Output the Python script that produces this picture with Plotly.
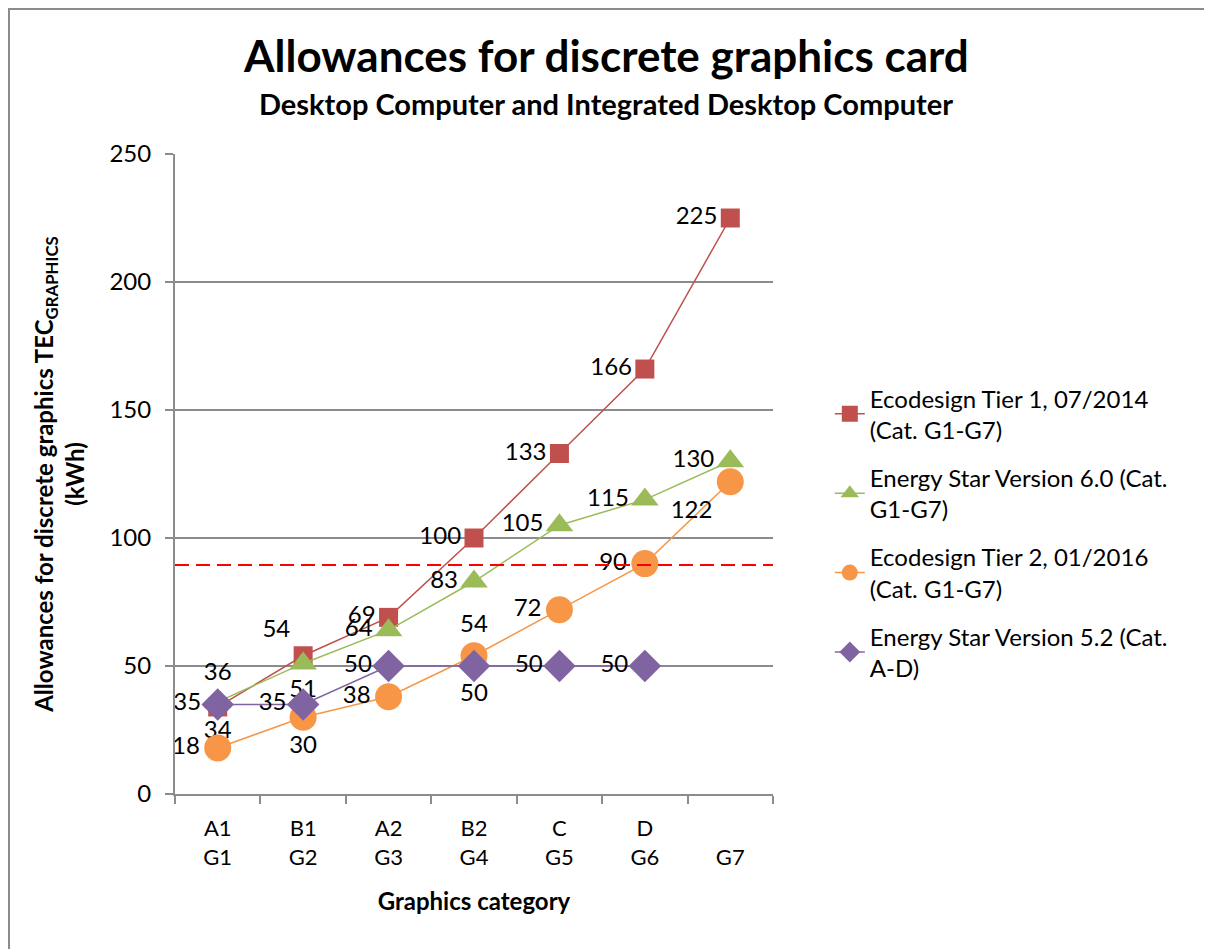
import plotly.graph_objects as go

categories = ["A1<br>G1", "B1<br>G2", "A2<br>G3", "B2<br>G4", "C<br>G5", "D<br>G6", " <br>G7"]

tier1_values = [34, 54, 69, 100, 133, 166, 225]
es6_values = [36, 51, 64, 83, 105, 115, 130]
tier2_values = [18, 30, 38, 54, 72, 90, 122]
es52_values = [35, 35, 50, 50, 50, 50]

threshold_value = 89.5

series_names = [
    "Ecodesign Tier 1, 07/2014<br>(Cat. G1-G7)",
    "Energy Star Version 6.0 (Cat.<br>G1-G7)",
    "Ecodesign Tier 2, 01/2016<br>(Cat. G1-G7)",
    "Energy Star Version 5.2 (Cat.<br>A-D)",
]

title_text = "Allowances for discrete graphics card"
subtitle_text = "Desktop Computer and Integrated Desktop Computer"

FONT = "Lato"

# label placements
tier1_pos = ["bottom center", "top left", "middle left", "middle left", "middle left", "middle left", "middle left"]
es6_pos = ["top center", "bottom center", "middle left", "middle left", "middle left", "middle left", "middle left"]
tier2_pos = ["middle left", "bottom center", "middle left", "top center", "middle left", "middle left", "bottom left"]
es52_pos = ["middle left", "middle left", "middle left", "bottom center", "middle left", "middle left"]

specs = [
    (tier1_values, "#C0504D", "square", 19, tier1_pos),
    (es6_values, "#9BBB59", "triangle-up", 24, es6_pos),
    (tier2_values, "#F79646", "circle", 27, tier2_pos),
    (es52_values, "#8064A2", "diamond", 25, es52_pos),
]

fig = go.Figure()
for i, (vals, color, sym, size, pos) in enumerate(specs):
    fig.add_trace(go.Scatter(
        x=categories[:len(vals)],
        y=vals,
        mode="lines+markers+text",
        name=series_names[i],
        legendgroup=f"g{i}",
        line=dict(color=color, width=1.5),
        marker=dict(symbol=sym, size=size, color=color),
        text=[str(v) for v in vals],
        textposition=pos,
        textfont=dict(family=FONT, size=24, color="#000000"),
        cliponaxis=False,
    ))

fig.add_shape(type="line", xref="x domain", yref="y", x0=0, x1=1,
              y0=threshold_value, y1=threshold_value,
              line=dict(color="#FF0000", width=2, dash="14px,7px"))

W, H = 1204, 941
L, R, T, B = 167, 439, 146, 155
pw, ph = W - L - R, H - T - B
# outer border
fig.add_shape(type="rect", xref="paper", yref="paper",
              x0=(1 - L) / pw, x1=(W - 2 - L) / pw,
              y0=-(B + 10) / ph, y1=1 + (T - 1) / ph,
              line=dict(color="#8C8C8C", width=2), layer="below")

fig.add_annotation(text=f"<b>{title_text}</b>", xref="paper", yref="paper",
                   x=(598 - L) / pw, y=1 + (T - 47) / ph, xanchor="center", yanchor="middle",
                   showarrow=False, font=dict(family=FONT, size=44, color="#000000"))
fig.add_annotation(text=f"<b>{subtitle_text}</b>", xref="paper", yref="paper",
                   x=(598 - L) / pw, y=1 + (T - 95) / ph, xanchor="center", yanchor="middle",
                   showarrow=False, font=dict(family=FONT, size=29, color="#000000"))

fig.update_layout(
    width=W, height=H,
    margin=dict(l=L, r=R, t=T, b=B),
    paper_bgcolor="white",
    plot_bgcolor="white",
    font=dict(family=FONT, size=22, color="#000000"),
    showlegend=True,
    legend=dict(
        x=1.095, y=0.653, xanchor="left", yanchor="top",
        font=dict(family=FONT, size=24, color="#000000"),
        tracegroupgap=14,
        bgcolor="rgba(0,0,0,0)",
    ),
    xaxis=dict(
        type="category",
        range=[-0.5, 6.5],
        showline=True, linecolor="#8C8C8C", linewidth=2,
        ticks="outside", tickson="boundaries", ticklen=8, tickcolor="#8C8C8C", tickwidth=1.5,
        ticklabelstandoff=14,
        showgrid=False,
        tickfont=dict(family=FONT, size=22),
        title=dict(text="<b>Graphics category</b>", font=dict(family=FONT, size=24), standoff=24),
    ),
    yaxis=dict(
        range=[0, 250], dtick=50,
        showline=True, linecolor="#8C8C8C", linewidth=2,
        ticks="outside", ticklen=8, tickcolor="#8C8C8C", tickwidth=1.5,
        ticklabelstandoff=9,
        showgrid=True, gridcolor="#8C8C8C", gridwidth=2,
        zeroline=False,
        tickfont=dict(family=FONT, size=24),
        title=dict(text="<b>Allowances for discrete graphics TEC<sub>GRAPHICS</sub><br>(kWh)</b>",
                   font=dict(family=FONT, size=24), standoff=18),
    ),
)

fig.write_html("out.html")
